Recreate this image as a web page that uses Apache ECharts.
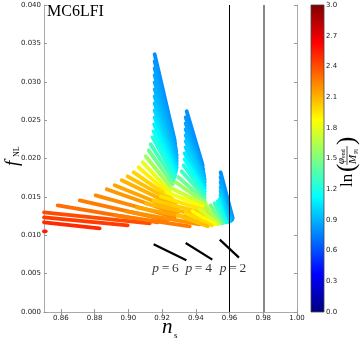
<!DOCTYPE html>
<html>
<head>
<meta charset="utf-8">
<script src="https://cdn.jsdelivr.net/npm/echarts@6/dist/echarts.min.js"></script>
<style>html,body{margin:0;padding:0;background:#fff}#main{width:364px;height:341px}</style>
</head>
<body>
<div id="main"></div>
<script>
// each streak: [ns start, fNL start, ns end, fNL end, ln(phi_end/M_Pl)]
var streaksP6 = [
	[0.9156,0.03358,0.9275,0.02237,0.80],
	[0.9156,0.03266,0.9278,0.02185,0.82],
	[0.9156,0.03175,0.9281,0.02133,0.84],
	[0.9156,0.03084,0.9284,0.02094,0.86],
	[0.9156,0.02993,0.9287,0.02042,0.88],
	[0.9156,0.02902,0.9287,0.02003,0.90],
	[0.9156,0.02810,0.9287,0.01964,0.93],
	[0.9156,0.02719,0.9287,0.01924,0.96],
	[0.9156,0.02628,0.9287,0.01885,1.00],
	[0.9156,0.02537,0.9284,0.01846,1.05],
	[0.9153,0.02446,0.9281,0.01820,1.10],
	[0.9150,0.02354,0.9278,0.01781,1.16],
	[0.9144,0.02276,0.9275,0.01755,1.23],
	[0.9132,0.02185,0.9269,0.01716,1.32],
	[0.9121,0.02107,0.9263,0.01664,1.45],
	[0.9103,0.02029,0.9251,0.01625,1.60],
	[0.9085,0.01951,0.9245,0.01573,1.80],
	[0.9061,0.01885,0.9251,0.01520,1.92],
	[0.9032,0.01820,0.9263,0.01468,2.00],
	[0.8996,0.01768,0.9281,0.01416,2.06],
	[0.8961,0.01716,0.9293,0.01364,2.10],
	[0.8919,0.01651,0.9298,0.01312,2.14],
	[0.8872,0.01599,0.9293,0.01273,2.18],
	[0.8806,0.01520,0.9275,0.01234,2.22],
	[0.8712,0.01455,0.9233,0.01195,2.26],
	[0.8581,0.01390,0.9174,0.01169,2.30],
	[0.8500,0.01299,0.9127,0.01156,2.40],
	[0.8500,0.01234,0.8996,0.01130,2.45],
	[0.8500,0.01169,0.8830,0.01091,2.50],
	[0.8500,0.01051,0.8510,0.01051,2.55]
];
var streaksP4 = [
	[0.9346,0.02615,0.9441,0.01911,0.80],
	[0.9340,0.02537,0.9444,0.01859,0.82],
	[0.9340,0.02459,0.9447,0.01807,0.85],
	[0.9340,0.02380,0.9450,0.01768,0.88],
	[0.9340,0.02302,0.9453,0.01729,0.92],
	[0.9340,0.02224,0.9453,0.01690,0.96],
	[0.9340,0.02146,0.9453,0.01651,1.00],
	[0.9334,0.02068,0.9453,0.01612,1.06],
	[0.9334,0.01990,0.9453,0.01573,1.13],
	[0.9328,0.01911,0.9453,0.01534,1.22],
	[0.9316,0.01833,0.9453,0.01494,1.32],
	[0.9298,0.01755,0.9453,0.01455,1.44],
	[0.9281,0.01690,0.9459,0.01416,1.58],
	[0.9257,0.01612,0.9470,0.01377,1.72],
	[0.9227,0.01560,0.9482,0.01338,1.85],
	[0.9192,0.01507,0.9494,0.01299,1.95],
	[0.9150,0.01455,0.9500,0.01260,2.02],
	[0.9103,0.01416,0.9494,0.01221,2.08],
	[0.9050,0.01364,0.9470,0.01182,2.14],
	[0.8990,0.01312,0.9423,0.01143,2.20],
	[0.8925,0.01260,0.9364,0.01117,2.26]
];
var streaksP2 = [
	[0.9547,0.01820,0.9619,0.01221,0.80],
	[0.9547,0.01755,0.9616,0.01208,0.83],
	[0.9547,0.01690,0.9613,0.01195,0.86],
	[0.9547,0.01625,0.9607,0.01188,0.90],
	[0.9547,0.01573,0.9601,0.01182,0.95],
	[0.9547,0.01520,0.9595,0.01175,1.00],
	[0.9541,0.01468,0.9583,0.01169,1.08],
	[0.9530,0.01442,0.9577,0.01169,1.18],
	[0.9512,0.01416,0.9565,0.01162,1.30],
	[0.9488,0.01390,0.9553,0.01156,1.45],
	[0.9459,0.01364,0.9541,0.01156,1.60],
	[0.9423,0.01338,0.9530,0.01143,1.75],
	[0.9381,0.01312,0.9512,0.01143,1.88],
	[0.9340,0.01286,0.9494,0.01130,1.98],
	[0.9293,0.01260,0.9470,0.01117,2.06]
];
// lambda phi^p predictions
var pSix = [[0.9150,0.00882],[0.9344,0.00674]];
var pFour = [[0.9340,0.00899],[0.9498,0.00683]];
var pTwo = [[0.9542,0.00943],[0.9656,0.00709]];
var nsTicks = [0.86,0.88,0.90,0.92,0.94,0.96,0.98,1.00];
var nsObs = [0.958, 0.9786];

var jet = ['#00007F','#0000FF','#007FFF','#00FFFF','#7FFF7F','#FFFF00','#FF7F00','#FF0000','#7F0000'];

var myChart = echarts.init(document.getElementById('main'));

function streak(params, api) {
	var a = api.coord([api.value(0), api.value(1)]);
	var b = api.coord([api.value(2), api.value(3)]);
	return {
		type: 'line',
		shape: {x1: a[0], y1: a[1], x2: b[0], y2: b[1]},
		style: {stroke: api.visual('color'), lineWidth: 3.8, lineCap: 'round'}
	};
}

function colorBar(params, api) {
	var tl = api.coord([0, 3]);
	var br = api.coord([1, 0]);
	var stops = jet.map(function(c, i) {
		return {offset: 1 - i / (jet.length - 1), color: c};
	}).reverse();
	return {
		type: 'rect',
		shape: {x: tl[0], y: tl[1], width: br[0] - tl[0], height: br[1] - tl[1]},
		style: {fill: new echarts.graphic.LinearGradient(0, 0, 0, 1, stops), stroke: '#444', lineWidth: 0.8}
	};
}

var tickFont = {fontFamily: 'DejaVu Sans', fontSize: 7, color: '#222'};
var frame = {show: true, lineStyle: {color: '#aaa', width: 1}};
var inTick = {show: true, inside: true, length: 3, lineStyle: {color: '#999'}};

function pLine(d) {
	return {
		type: 'line', data: d, symbol: 'none', silent: true, z: 4,
		lineStyle: {color: '#000', width: 2.2}
	};
}

var option = {
	animation: false,
	grid: [
		{left: 44, top: 5, width: 253, height: 307},
		{left: 311, top: 5, width: 13, height: 307}
	],
	xAxis: [
		{type: 'value', min: 0.85, max: 1.0, gridIndex: 0, axisLine: frame, splitLine: {show: false},
			axisTick: Object.assign({customValues: nsTicks}, inTick),
			axisLabel: Object.assign({customValues: nsTicks, margin: 3, formatter: function(v) { return v.toFixed(2); }}, tickFont)},
		{type: 'value', min: 0.85, max: 1.0, gridIndex: 0, position: 'top', axisLine: frame, splitLine: {show: false},
			axisTick: Object.assign({customValues: nsTicks}, inTick), axisLabel: {show: false}},
		{type: 'value', min: 0, max: 1, gridIndex: 1, show: false}
	],
	yAxis: [
		{type: 'value', min: 0, max: 0.04, interval: 0.005, gridIndex: 0, axisLine: frame, splitLine: {show: false},
			axisTick: inTick,
			axisLabel: Object.assign({margin: 3, formatter: function(v) { return v.toFixed(3); }}, tickFont)},
		{type: 'value', min: 0, max: 0.04, interval: 0.005, gridIndex: 0, position: 'right', axisLine: frame,
			splitLine: {show: false}, axisTick: inTick, axisLabel: {show: false}},
		{type: 'value', min: 0, max: 3, interval: 0.3, gridIndex: 1, position: 'right',
			axisLine: {show: false}, axisTick: {show: false}, splitLine: {show: false},
			axisLabel: Object.assign({margin: 2, formatter: function(v) { return v.toFixed(1); }}, tickFont)}
	],
	visualMap: {
		show: false, type: 'continuous', min: 0, max: 3, dimension: 4,
		seriesIndex: [0, 1, 2], inRange: {color: jet}
	},
	series: [
		{type: 'custom', renderItem: streak, data: streaksP6, encode: {x: [0, 2], y: [1, 3]}, silent: true, z: 2},
		{type: 'custom', renderItem: streak, data: streaksP4, encode: {x: [0, 2], y: [1, 3]}, silent: true, z: 2},
		{type: 'custom', renderItem: streak, data: streaksP2, encode: {x: [0, 2], y: [1, 3]}, silent: true, z: 2},
		pLine(pSix),
		pLine(pFour),
		pLine(pTwo),
		{
			type: 'line', data: [], silent: true, z: 5,
			markLine: {
				symbol: 'none', silent: true, label: {show: false}, animation: false,
				data: [
					{xAxis: nsObs[0], lineStyle: {color: '#000', width: 1, type: 'solid'}},
					{xAxis: nsObs[1], lineStyle: {color: '#888', width: 2, type: 'solid'}}
				]
			}
		},
		{
			type: 'scatter', symbolSize: 0, silent: true, z: 6,
			data: [[0.9221, 0.0057, '6'], [0.9417, 0.0057, '4'], [0.9621, 0.0057, '2']],
			label: {
				show: true, position: 'inside',
				formatter: function(p) { return '{i|p}{n|\u2009=\u2009' + p.value[2] + '}'; },
				rich: {
					i: {fontFamily: 'Liberation Serif', fontStyle: 'italic', fontSize: 13.5, color: '#000'},
					n: {fontFamily: 'Liberation Serif', fontSize: 13.5, color: '#000'}
				}
			}
		},
		{type: 'custom', renderItem: colorBar, data: [[0, 0]], xAxisIndex: 2, yAxisIndex: 2, silent: true}
	],
	graphic: [
		{type: 'text', left: 47, top: 4, style: {text: 'MC6LFI', font: '16px "Liberation Serif"', fill: '#000'}},
		{
			type: 'group', x: 13, y: 158, rotation: Math.PI / 2,
			children: [
				{type: 'text', x: -8, y: 0, style: {text: 'f', font: 'italic 19px "Liberation Serif"', fill: '#000', verticalAlign: 'middle'}},
				{type: 'text', x: 1, y: 4, style: {text: 'NL', font: '8px "Liberation Serif"', fill: '#000', verticalAlign: 'middle'}}
			]
		},
		{type: 'text', x: 162, y: 327, style: {text: 'n', font: 'italic 21px "Liberation Serif"', fill: '#000', verticalAlign: 'middle'}},
		{type: 'text', x: 174, y: 336, style: {text: 's', font: '9px "Liberation Serif"', fill: '#000', verticalAlign: 'middle'}},
		{
			type: 'group', x: 347, y: 160, rotation: Math.PI / 2,
			children: [
				{type: 'text', x: -27, y: 1, style: {text: 'ln', font: '17px "Liberation Serif"', fill: '#000', verticalAlign: 'middle'}},
				{type: 'text', x: -12, y: 0, style: {text: '(', font: '25px "Liberation Serif"', fill: '#000', verticalAlign: 'middle'}},
				{type: 'text', x: -4, y: -6, style: {text: '\u03C6', font: 'italic 11px "Liberation Serif"', fill: '#000', verticalAlign: 'middle'}},
				{type: 'text', x: 2, y: -4, style: {text: 'end', font: '6px "Liberation Serif"', fill: '#000', verticalAlign: 'middle'}},
				{type: 'line', shape: {x1: -5, y1: 0, x2: 14, y2: 0}, style: {stroke: '#000', lineWidth: 0.7}},
				{type: 'text', x: -4, y: 6, style: {text: 'M', font: 'italic 11px "Liberation Serif"', fill: '#000', verticalAlign: 'middle'}},
				{type: 'text', x: 6, y: 9, style: {text: 'Pl', font: '6px "Liberation Serif"', fill: '#000', verticalAlign: 'middle'}},
				{type: 'text', x: 15, y: 0, style: {text: ')', font: '25px "Liberation Serif"', fill: '#000', verticalAlign: 'middle'}}
			]
		}
	]
};
myChart.setOption(option);
</script>
</body>
</html>
